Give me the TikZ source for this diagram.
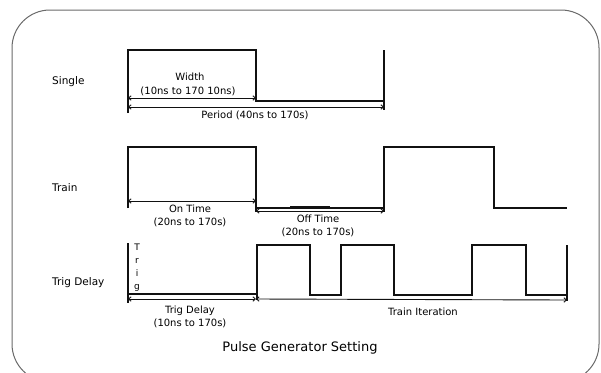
\documentclass[tikz,border=0pt]{standalone}
\usepackage{fontspec}
\setmainfont{DejaVu Sans}
\usepackage{xcolor}
\usepackage{tikz}
\usetikzlibrary{arrows.meta,positioning}
\definecolor{framegrey}{HTML}{6A6A6A}
\definecolor{sigblack}{HTML}{111111}
\tikzset{
  framebox/.style={
    draw=framegrey, line width=1pt, rounded corners=38pt
  },
  sigthick/.style={
    draw=sigblack, line width=2pt, line join=miter
  },
  sigthin/.style={
    draw=sigblack, line width=1.1pt, line join=miter
  },
  dimarrow/.style={
    {Straight Barb[length=2.5pt,width=4.5pt]}-{Straight Barb[length=2.5pt,width=4.5pt]},
    line width=0.9pt, color=sigblack
  },
  rowlabel/.style={
    font=\fontsize{10.5}{12}\selectfont, anchor=west, inner sep=0pt
  },
  dimlabel/.style={
    font=\fontsize{10}{12}\selectfont, inner sep=0pt
  },
}

\begin{document}
\begin{tikzpicture}[x=1pt, y=-1pt]
  \useasboundingbox (0,0) rectangle (601,372);
  \draw[framebox] (12,10) rectangle (599,382);

  % ── row labels ──
  \node[rowlabel] (single) at (52,82) {Single};
  \node[rowlabel] (train) at (52,188) {Train};
  \node[rowlabel] (trigdelay) at (52,283) {Trig Delay};

  % ── Single ──
  \draw[sigthick] (128,113) -- (128,50) -- (256,50) -- (256,101) -- (384,101);
  \draw[sigthin] (384,50) -- (384,110);
  \coordinate (sw0) at (128,98);
  \coordinate (sw1) at (256,98);
  \coordinate (sp0) at (128,107);
  \coordinate (sp1) at (384,107);
  \draw[dimarrow] (sw0) -- (sw1);
  \draw[dimarrow] (sp0) -- (sp1);
  \node[dimlabel] (width) at (190,77) {Width};
  \node[dimlabel] (widthrange) at (188,91) {(10ns to 170 10ns)};
  \node[dimlabel] (period) at (255,115) {Period (40ns to 170s)};

  % ── Train ──
  \draw[sigthick] (128,208) -- (128,147) -- (256,147) -- (256,212);
  \draw[sigthin] (256,208) -- (384,208) -- (384,147) -- (494,147) -- (494,208) -- (567,208);
  \draw[sigthin] (384,208) -- (384,212);
  \draw[sigthick] (290,207) -- (330,207);
  \coordinate (ton0) at (128,201);
  \coordinate (ton1) at (256,201);
  \coordinate (toff0) at (256,211);
  \coordinate (toff1) at (384,211);
  \draw[dimarrow] (ton0) -- (ton1);
  \draw[dimarrow] (toff0) -- (toff1);
  \node[dimlabel] (ontime) at (190,209) {On Time};
  \node[dimlabel] (onrange) at (190,222) {(20ns to 170s)};
  \node[dimlabel] (offtime) at (318,219) {Off Time};
  \node[dimlabel] (offrange) at (318,232) {(20ns to 170s)};

  % ── Trig Delay ──
  \draw[sigthin] (128,243) -- (128,303);
  \draw[sigthin] (128,294) -- (256,294);
  \draw[sigthin] (257,300) -- (257,245) -- (310,245) -- (310,295) -- (341,295)
    -- (341,245) -- (394,245) -- (394,295) -- (472,295) -- (472,245)
    -- (526,245) -- (526,295) -- (567,295);
  \draw[sigthin] (567,245) -- (567,301);
  \node[dimlabel, align=center, font=\fontsize{9}{13}\selectfont] (trigword) at (137,268) {T\\r\\i\\g};
  \coordinate (td0) at (128,299);
  \coordinate (td1) at (256,299);
  \coordinate (ti1) at (567,300);
  \draw[dimarrow] (td0) -- (td1);
  \draw[dimarrow] (td1) -- (ti1);
  \node[dimlabel] (tdlabel) at (190,311) {Trig Delay};
  \node[dimlabel] (tdrange) at (190,323) {(10ns to 170s)};
  \node[dimlabel] (iteration) at (423,312) {Train Iteration};

  % caption
  \node[font=\fontsize{13}{15}\selectfont, inner sep=0pt] (caption) at (300,348) {Pulse Generator Setting};
\end{tikzpicture}
\end{document}
